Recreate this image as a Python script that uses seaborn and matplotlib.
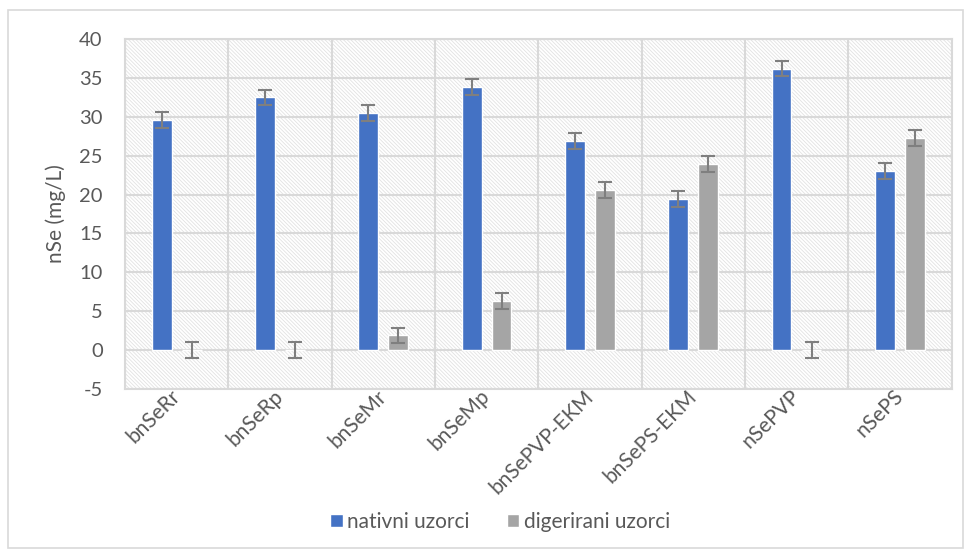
import numpy as np
import pandas as pd
import matplotlib
matplotlib.use("Agg")
import matplotlib.pyplot as plt
from matplotlib.patches import Rectangle
import seaborn as sns

# Data
samples = ["bnSeRr", "bnSeRp", "bnSeMr", "bnSeMp", "bnSePVP-EKM", "bnSePS-EKM", "nSePVP", "nSePS"]
nativni = [29.6, 32.5, 30.5, 33.8, 26.9, 19.4, 36.2, 23.0]
digerirani = [0.0, 0.0, 1.9, 6.3, 20.6, 23.9, 0.0, 27.3]
err_nativni = [1.0, 1.0, 1.0, 1.0, 1.0, 1.0, 1.0, 1.0]
err_digerirani = [1.0, 1.0, 1.0, 1.0, 1.0, 1.0, 1.0, 1.0]
series = ["nativni uzorci", "digerirani uzorci"]

df = pd.DataFrame({
    "uzorak": samples * 2,
    "nSe": nativni + digerirani,
    "err": err_nativni + err_digerirani,
    "serija": [series[0]] * len(samples) + [series[1]] * len(samples),
})

sns.set_theme(style="white")
plt.rcParams["font.family"] = ["Lato", "DejaVu Sans"]
plt.rcParams["axes.unicode_minus"] = False
text_col = "#595959"
grid_col = "#d9d9d9"

fig = plt.figure(figsize=(9.71, 5.55), dpi=100)
ax = fig.add_axes([0.1287, 0.299, 0.8513, 0.6307])

# hatched plot background
plt.rcParams["hatch.linewidth"] = 0.6
ax.add_patch(Rectangle((0, 0), 1, 1, transform=ax.transAxes, facecolor="white",
                       edgecolor="#e2e2e2", linewidth=0, hatch="\\" * 9, zorder=0))

sns.barplot(data=df, x="uzorak", y="nSe", hue="serija", ax=ax,
            palette=["#4472c4", "#a5a5a5"], width=0.58, gap=0.34,
            errorbar=None, saturation=1, zorder=3)

# error bars positioned on the bars seaborn drew
for cont, errs in zip(ax.containers, [err_nativni, err_digerirani]):
    xs = [p.get_x() + p.get_width() / 2 for p in cont.patches]
    ys = [p.get_height() for p in cont.patches]
    ax.errorbar(xs, ys, yerr=errs, fmt="none", ecolor="#7f7f7f",
                elinewidth=1.5, capsize=5, capthick=1.5, zorder=4)

ax.set_ylim(-5, 40)
ax.set_yticks(np.arange(-5, 41, 5))
ax.set_xlim(-0.5, len(samples) - 0.5)
ax.set_xticks(np.arange(-0.5, len(samples), 1), minor=True)
ax.grid(axis="y", which="major", color=grid_col, linewidth=1.5, zorder=1)
ax.grid(axis="x", which="minor", color=grid_col, linewidth=1.5, zorder=1)
ax.set_axisbelow(True)
for s in ax.spines.values():
    s.set_color(grid_col)
    s.set_linewidth(1.5)

ax.tick_params(axis="both", which="both", length=0, colors=text_col)
ax.tick_params(axis="y", pad=16, labelsize=14.5)
ax.tick_params(axis="x", pad=3, labelsize=15)
plt.setp(ax.get_xticklabels(), rotation=45, ha="right", va="center",
         rotation_mode="anchor")
ax.set_xlabel("")
ax.set_ylabel("nSe (mg/L)", color=text_col, fontsize=15)
ax.yaxis.set_label_coords(-0.071, 0.5)

leg = ax.legend(loc="center", bbox_to_anchor=(500 / 971, 1 - 522 / 555),
                bbox_transform=fig.transFigure, ncol=2,
                frameon=False, fontsize=15, handlelength=0.6, handleheight=0.6,
                handletextpad=0.2, columnspacing=1.8)
for t in leg.get_texts():
    t.set_color(text_col)

fig.patches.append(Rectangle((8 / 971, 7 / 555), 955 / 971, 538 / 555,
                             transform=fig.transFigure, fill=False,
                             edgecolor=grid_col, linewidth=1.2))

fig.savefig("out.png", dpi=100)
